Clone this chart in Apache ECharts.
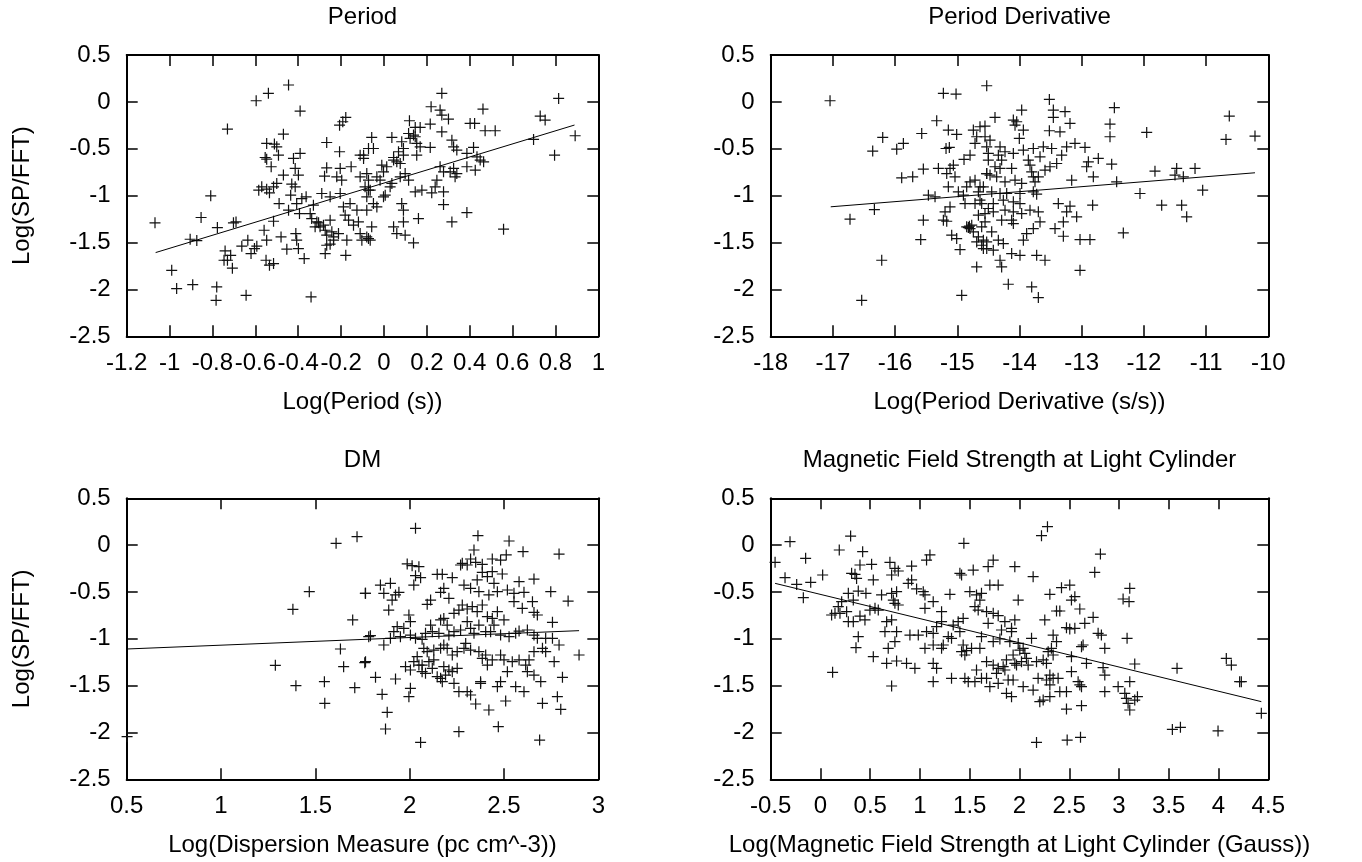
<!DOCTYPE html>
<html>
<head>
<meta charset="utf-8">
<script src="https://cdn.jsdelivr.net/npm/echarts@6/dist/echarts.min.js"></script>
<style>
html,body{margin:0;padding:0;background:#fff;}
#chart{width:1362px;height:862px;}
</style>
</head>
<body>
<div id="chart"></div>
<script>
// ---------- DATA ----------
const titles = ['Period', 'Period Derivative', 'DM', 'Magnetic Field Strength at Light Cylinder'];
const xNames = ['Log(Period (s))', 'Log(Period Derivative (s/s))', 'Log(Dispersion Measure (pc cm^-3))', 'Log(Magnetic Field Strength at Light Cylinder (Gauss))'];
const yName = 'Log(SP/FFT)';
const xRanges = [[-1.2, 1, 0.2], [-18, -10, 1], [0.5, 3, 0.5], [-0.5, 4.5, 0.5]];
const yRange = [-2.5, 0.5, 0.5];

const periodPts = [[-1.068,-1.29],[-0.99,-1.796],[-0.967,-1.991],[-0.892,-1.949],[-0.904,-1.465],[-0.873,-1.479],[-0.853,-1.233],[-0.808,-1.002],[-0.78,-1.974],[-0.783,-2.116],[-0.777,-1.34],[-0.73,-0.29],[-0.702,-1.29],[-0.69,-1.28],[-0.741,-1.589],[-0.73,-1.689],[-0.715,-1.636],[-0.707,-1.774],[-0.746,-1.689],[-0.643,-2.063],[-0.663,-1.539],[-0.635,-1.475],[-0.62,-1.618],[-0.604,-1.564],[-0.593,-1.539],[-0.596,0.012],[-0.539,0.091],[-0.445,0.18],[-0.391,-0.098],[-0.469,-0.344],[-0.547,-0.443],[-0.511,-0.45],[-0.5,-0.479],[-0.492,-0.568],[-0.554,-0.593],[-0.547,-0.611],[-0.526,-0.692],[-0.584,-0.942],[-0.57,-0.906],[-0.547,-0.931],[-0.534,-0.97],[-0.515,-0.906],[-0.5,-0.87],[-0.469,-0.781],[-0.489,-1.084],[-0.559,-1.369],[-0.547,-1.475],[-0.515,-1.273],[-0.48,-1.44],[-0.453,-1.571],[-0.411,-1.404],[-0.407,-1.475],[-0.399,-1.564],[-0.372,-1.671],[-0.55,-1.689],[-0.534,-1.742],[-0.515,-1.724],[-0.422,-0.603],[-0.391,-0.55],[-0.414,-0.71],[-0.399,-0.781],[-0.43,-0.877],[-0.414,-0.906],[-0.435,-0.995],[-0.407,-1.084],[-0.383,-1.031],[-0.363,-1.013],[-0.445,-1.155],[-0.394,-1.191],[-0.34,-2.08],[-0.267,-0.433],[-0.207,-0.532],[-0.207,-0.248],[-0.192,-0.212],[-0.178,-0.166],[-0.267,-0.703],[-0.204,-0.71],[-0.153,-0.692],[-0.277,-0.792],[-0.22,-0.799],[-0.197,-0.835],[-0.111,-0.568],[-0.095,-0.603],[-0.072,-0.497],[-0.111,-0.799],[-0.08,-0.764],[-0.29,-0.977],[-0.251,-1.013],[-0.204,-0.977],[-0.329,-1.102],[-0.337,-1.244],[-0.313,-1.28],[-0.298,-1.333],[-0.274,-1.369],[-0.251,-1.262],[-0.243,-1.386],[-0.267,-1.422],[-0.235,-1.44],[-0.212,-1.404],[-0.189,-1.12],[-0.181,-1.208],[-0.165,-1.262],[-0.158,-1.084],[-0.142,-1.315],[-0.119,-1.28],[-0.111,-1.404],[-0.103,-1.475],[-0.072,-1.458],[-0.126,-1.155],[-0.08,-1.013],[-0.072,-0.942],[-0.173,-1.475],[-0.178,-1.636],[-0.274,-1.618],[-0.267,-1.529],[-0.251,-1.518],[-0.235,-1.475],[-0.321,-1.333],[-0.305,-1.29],[-0.282,-1.315],[-0.344,-1.191],
[0.27,0.091],[0.22,-0.052],[0.262,-0.087],[0.27,-0.141],[0.301,-0.183],[0.462,-0.077],[0.402,-0.23],[0.423,-0.23],[0.472,-0.308],[0.519,-0.308],[0.119,-0.201],[0.169,-0.272],[0.146,-0.272],[0.216,-0.237],[0.115,-0.337],[0.138,-0.354],[0.146,-0.372],[0.122,-0.39],[0.27,-0.319],[-0.057,-0.379],[0.037,-0.379],[0.083,-0.425],[0.091,-0.497],[0.153,-0.443],[0.169,-0.479],[0.216,-0.486],[-0.049,-0.497],[-0.095,-0.568],[0.045,-0.593],[0.06,-0.639],[0.091,-0.568],[0.153,-0.568],[0.317,-0.408],[0.34,-0.514],[0.325,-0.479],[0.387,-0.55],[0.418,-0.486],[0.434,-0.586],[0.449,-0.621],[0.465,-0.639],[0.729,-0.151],[0.752,-0.194],[0.815,0.037],[0.698,-0.4],[0.796,-0.568],[0.892,-0.361],[0.558,-1.358],[0.387,-1.18],[0.317,-1.28],[0.161,-1.244],[0.278,-1.095],[0.278,-0.959],[0.223,-0.97],[0.146,-0.959],[0.177,-0.942],[0.045,-1.333],[0.091,-1.28],[0.099,-1.422],[0.138,-1.504],[0.06,-1.404],[-0.033,-0.799],[-0.018,-0.835],[0.006,-0.995],[-0.002,-1.013],[-0.072,-0.835],[-0.088,-0.906],[-0.064,-0.942],[-0.049,-1.084],[-0.08,-1.155],[-0.033,-1.12],[-0.057,-1.333],[-0.08,-1.44],[-0.064,-1.475],[0.083,-1.084],[0.091,-1.155],[0.076,-0.799],[0.115,-0.835],[0.099,-0.764],[0.262,-0.692],[0.278,-0.746],[0.325,-0.71],[0.332,-0.799],[0.34,-0.764],[0.309,-0.746],[0.387,-0.692],[0.426,-0.728],[0.247,-0.835],[0.239,-0.906],[0.029,-0.906],[0.037,-0.87],[-0.01,-0.675],[0.013,-0.692],[-0.002,-0.746],[0.068,-0.532],[0.045,-0.621],[0.076,-0.657]];

const pdotPts = [[-17.046,0.012],[-16.725,-1.251],[-16.333,-1.148],[-16.36,-0.525],[-16.199,-0.379],[-15.974,-0.504],[-15.867,-0.443],[-16.215,-1.689],[-16.537,-2.116],[-15.894,-0.81],[-15.717,-0.799],[-15.546,-0.717],[-15.304,-0.71],[-15.17,-0.764],[-15.117,-0.71],[-15.063,-0.675],[-15.037,-0.799],[-15.144,-0.906],[-15.572,-0.337],[-15.331,-0.201],[-15.144,-0.301],[-15.01,-0.347],[-15.128,-0.486],[-15.181,-0.497],[-15.224,0.091],[-15.02,0.083],[-14.527,0.172],[-14.742,-0.301],[-14.635,-0.265],[-14.688,-0.372],[-14.715,-0.443],[-14.795,-0.568],[-14.892,-0.614],[-15.465,-0.995],[-15.358,-1.013],[-15.117,-1.12],[-15.197,-1.173],[-15.224,-1.262],[-15.17,-1.273],[-15.546,-1.262],[-15.588,-1.468],[-15.09,-1.422],[-15.01,-1.458],[-14.956,-1.575],[-14.688,-1.76],[-14.929,-2.063],[-14.983,-0.959],[-14.902,-0.995],[-14.849,-0.906],[-14.795,-0.853],[-14.715,-0.835],[-14.635,-0.906],[-14.661,-0.959],[-14.635,-1.048],[-14.715,-1.084],[-14.876,-1.084],[-14.849,-1.333],[-14.795,-1.351],[-14.768,-1.315],[-14.742,-1.386],[-14.661,-1.44],[-14.688,-1.493],[-14.608,-1.529],[-14.527,-1.564],[-14.581,-1.475],[-14.661,-1.208],[-14.554,-1.28],[-14.501,-1.137],[-14.527,-0.764],[-14.501,-0.621],[-14.527,-0.479],[-14.554,-0.372],[-14.822,-1.34],[-14.806,-1.326],
[-13.52,0.026],[-13.965,-0.087],[-14.394,-0.166],[-14.099,-0.194],[-14.045,-0.212],[-14.072,-0.248],[-13.938,-0.301],[-14.003,-0.39],[-14.555,-0.258],[-13.456,-0.087],[-13.456,-0.166],[-13.268,-0.105],[-13.188,-0.23],[-13.52,-0.308],[-13.349,-0.319],[-12.475,-0.062],[-12.545,-0.237],[-12.545,-0.372],[-11.955,-0.326],[-10.627,-0.151],[-10.68,-0.4],[-10.214,-0.365],[-14.474,-0.408],[-14.313,-0.479],[-14.233,-0.532],[-14.501,-0.55],[-14.34,-0.568],[-14.287,-0.621],[-14.394,-0.692],[-14.313,-0.71],[-14.126,-0.71],[-14.099,-0.55],[-13.938,-0.514],[-13.778,-0.497],[-13.617,-0.479],[-13.483,-0.497],[-13.322,-0.568],[-13.402,-0.657],[-13.242,-0.479],[-13.108,-0.443],[-12.947,-0.486],[-12.733,-0.603],[-12.893,-0.639],[-12.92,-0.692],[-12.518,-0.664],[-12.813,-0.799],[-13.161,-0.835],[-12.438,-0.853],[-13.858,-0.621],[-13.831,-0.675],[-13.804,-0.746],[-13.778,-0.799],[-13.751,-0.853],[-13.697,-0.799],[-13.67,-0.586],[-13.59,-0.728],[-13.51,-0.692],[-14.528,-0.764],[-14.474,-0.781],[-14.367,-0.799],[-14.233,-0.853],[-14.072,-0.835],[-13.965,-0.87],[-14.581,-0.906],[-14.447,-0.959],[-14.313,-0.977],[-14.206,-0.977],[-13.992,-0.977],[-13.778,-0.959],[-13.724,-0.984],[-11.822,-0.739],[-11.473,-0.71],[-11.5,-0.781],[-11.366,-0.799],[-11.178,-0.71],[-11.055,-0.942],[-12.063,-0.977],[-11.714,-1.102],[-11.393,-1.102],[-11.312,-1.226],[-12.331,-1.397],[-12.824,-1.102],[-13.027,-1.468],[-12.867,-1.468],[-14.608,-1.084],[-14.421,-1.084],[-14.26,-1.048],[-14.099,-1.066],[-13.992,-1.084],[-14.555,-1.191],[-14.421,-1.173],[-14.233,-1.155],[-14.099,-1.173],[-13.965,-1.191],[-13.831,-1.155],[-13.697,-1.173],[-13.376,-1.084],[-13.188,-1.112],[-13.081,-1.226],[-13.242,-1.173],[-13.295,-1.28],[-13.429,-1.351],[-13.67,-1.28],[-13.778,-1.351],[-13.885,-1.404],[-13.938,-1.475],[-14.287,-1.262],[-14.126,-1.262],[-14.099,-1.298],[-14.608,-1.333],[-14.447,-1.386],[-14.34,-1.475],[-14.528,-1.493],[-14.581,-1.564],[-14.421,-1.582],[-14.26,-1.511],[-14.313,-1.689],[-14.287,-1.76],[-14.126,-1.618],[-13.992,-1.636],[-13.724,-1.636],[-13.59,-1.689],[-13.027,-1.796],[-14.18,-1.945],[-13.804,-1.974],[-13.697,-2.087],[-13.295,-1.433]];

const dmPts = [[0.502,-2.045],[1.61,0.019],[1.721,0.09],[1.468,-0.497],[1.381,-0.685],[1.765,-0.515],[1.698,-0.799],[1.783,-0.977],[1.633,-1.109],[1.288,-1.283],[1.65,-1.298],[1.762,-1.255],[1.397,-1.5],[1.548,-1.458],[1.709,-1.522],[1.55,-1.689],
[2.031,0.179],[2.362,0.101],[2.527,0.044],[2.601,-0.07],[2.792,-0.095],[2.341,-0.052],[2.323,-0.148],[2.279,-0.194],[2.305,-0.212],[2.35,-0.184],[2.385,-0.205],[2.438,-0.148],[2.482,-0.159],[2.512,-0.105],[1.987,-0.201],[2.013,-0.219],[2.049,-0.23],[2.031,-0.326],[2.058,-0.347],[2.022,-0.426],[2.146,-0.312],[2.173,-0.312],[2.226,-0.347],[2.27,-0.212],[2.358,-0.372],[2.385,-0.29],[2.412,-0.337],[2.438,-0.283],[2.491,-0.308],[2.447,-0.408],[2.58,-0.39],[2.659,-0.362],[2.288,-0.426],[2.323,-0.461],[2.367,-0.497],[2.42,-0.532],[2.465,-0.497],[2.518,-0.479],[2.553,-0.515],[2.606,-0.504],[2.748,-0.497],[2.84,-0.597],[1.766,-0.515],[1.845,-0.426],[1.898,-0.408],[1.863,-0.515],[1.925,-0.532],[1.943,-0.504],[1.907,-0.586],[1.889,-0.693],[2.164,-0.504],[2.181,-0.461],[2.111,-0.586],[2.093,-0.632],[2.208,-0.568],[2.235,-0.728],[2.261,-0.693],[2.279,-0.639],[2.305,-0.682],[2.332,-0.657],[2.358,-0.71],[2.385,-0.639],[2.412,-0.764],[2.438,-0.782],[2.465,-0.71],[2.5,-0.799],[2.553,-0.604],[2.597,-0.675],[2.651,-0.604],[2.659,-0.718],[2.677,-0.746],[2.757,-0.824],[1.996,-0.746],[2.004,-0.817],[1.934,-0.871],[1.969,-0.888],[1.916,-0.924],[1.951,-0.977],[1.792,-0.967],[1.898,-0.995],[1.863,-1.066],[2.004,-0.96],[2.031,-0.995],[2.066,-1.006],[2.084,-0.942],[2.111,-0.853],[2.164,-0.799],[2.181,-0.782],[2.12,-0.924],[2.155,-0.942],[2.199,-0.853],[2.208,-0.96],[2.235,-0.924],[2.27,-0.906],[2.305,-0.817],[2.323,-0.888],[2.341,-0.942],[2.367,-0.853],[2.403,-0.924],[2.429,-0.924],[2.447,-0.853],[2.482,-0.96],[2.527,-0.977],[2.562,-0.942],[2.58,-0.917],[2.624,-0.906],[2.659,-0.96],[2.677,-0.995],[2.721,-0.995],[2.757,-0.995],[2.792,-1.066],[1.766,-1.244],[1.819,-1.411],[1.854,-1.593],[1.881,-1.785],[1.872,-1.963],[2.058,-2.106],[2.261,-1.992],[2.47,-1.938],[2.689,-2.081],[2.801,-1.753],[2.783,-1.618],[2.704,-1.689],[2.81,-1.411],[2.695,-1.458],[1.925,-1.429],[1.978,-1.298],[2.004,-1.333],[2.022,-1.244],[2.049,-1.28],[2.066,-1.351],[2.084,-1.369],[2.102,-1.244],[2.12,-1.315],[2.146,-1.404],[2.164,-1.422],[2.173,-1.458],[2.19,-1.387],[2.208,-1.333],[2.226,-1.351],[2.252,-1.315],[2.235,-1.476],[2.261,-1.565],[2.305,-1.565],[2.323,-1.6],[2.35,-1.696],[2.376,-1.476],[2.376,-1.458],[2.42,-1.76],[2.465,-1.511],[2.482,-1.458],[2.509,-1.664],[2.562,-1.511],[2.606,-1.565],[2.004,-1.529],[1.996,-1.618],[2.075,-1.102],[2.093,-1.138],[2.128,-1.12],[2.164,-1.102],[2.181,-1.066],[2.199,-1.102],[2.226,-1.173],[2.252,-1.138],[2.297,-1.049],[2.288,-1.102],[2.323,-1.12],[2.367,-1.138],[2.385,-1.209],[2.412,-1.28],[2.403,-1.173],[2.438,-1.226],[2.482,-1.173],[2.5,-1.226],[2.518,-1.351],[2.544,-1.244],[2.58,-1.226],[2.615,-1.28],[2.633,-1.226],[2.659,-1.138],[2.704,-1.102],[2.721,-1.138],[2.766,-1.244],[2.624,-1.351],[2.659,-1.387],[2.04,-1.191],[2.066,-1.28],[2.128,-1.226],[2.181,-1.298],[2.898,-1.173]];

const bfieldPts = [[-0.456,-0.184],[-0.306,0.037],[-0.356,-0.347],[-0.239,-0.419],[-0.172,-0.561],[-0.149,-0.141],[-0.098,-0.397],[0.022,-0.319],[0.189,-0.052],[0.303,0.097],[0.424,-0.07],[0.122,-1.358],[0.347,-0.312],[0.363,-0.355],[0.397,-0.212],[0.514,-0.205],[0.531,-0.372],[0.313,-0.301],[0.28,-0.515],[0.38,-0.49],[0.457,-0.515],[0.33,-0.586],[0.213,-0.604],[0.179,-0.657],[0.112,-0.746],[0.146,-0.728],[0.196,-0.728],[0.263,-0.71],[0.28,-0.817],[0.33,-0.817],[0.397,-0.757],[0.447,-0.799],[0.38,-0.977],[0.357,-1.095],[0.497,-0.693],[0.548,-0.675],[0.581,-0.693],[0.614,-0.532],[0.698,-0.184],[0.748,-0.248],[0.715,-0.319],[0.782,-0.276],[0.916,-0.223],[0.916,-0.372],[0.882,-0.408],[0.966,-0.468],[1.033,-0.497],[1.05,-0.532],[1.1,-0.105],[1.066,-0.159],[0.715,-0.515],[0.765,-0.497],[0.732,-0.586],[0.748,-0.621],[0.782,-0.639],[0.715,-0.799],[0.665,-0.817],[0.648,-0.924],[0.765,-0.924],[0.748,-1.031],[0.681,-1.102],[0.531,-1.191],[0.665,-1.262],[0.765,-1.237],[0.865,-1.262],[0.949,-1.315],[0.715,-1.504],[0.899,-0.96],[0.983,-0.96],[1.066,-0.924],[1.133,-0.942],[1.167,-0.871],[1.217,-0.817],[1.217,-0.71],[1.133,-0.604],[1.05,-0.675],[1.05,-1.102],[1.133,-1.066],[1.217,-1.102],[1.234,-1.066],[1.133,-1.262],[1.167,-1.315],[1.133,-1.458],[1.317,-1.422],[1.451,-1.422],[1.485,-1.458],[1.552,-1.458],[1.618,-1.422],[1.702,-1.511],[1.786,-1.476],[1.869,-1.582],[1.92,-1.618],[1.886,-1.44],[1.284,-0.977],[1.317,-0.995],[1.334,-0.853],[1.384,-0.817],[1.434,-0.782],[1.401,-0.924],[1.434,-1.066],[1.418,-1.138],[1.468,-1.127],[1.451,-1.173],[1.518,-1.102],[1.602,-1.102],[1.618,-0.977],[1.301,-0.525],[1.401,-0.301],[1.441,0.019],[1.535,-0.266],[1.418,-0.319],[1.501,-0.497],[1.568,-0.532],[1.618,-0.515],[1.602,-0.586],[1.552,-0.657],[1.585,-0.693],[1.669,-0.71],[1.685,-0.23],[1.736,-0.159],[1.702,-0.426],[1.786,-0.426],[1.953,-0.23],[1.987,-0.586],[1.736,-0.728],[1.786,-0.753],[1.853,-0.817],[1.953,-0.799],[1.685,-0.835],[1.819,-0.906],[1.92,-0.924],[1.736,-1.031],[1.803,-1.002],[1.903,-1.031],[1.987,-1.049],[1.669,-1.244],[1.736,-1.28],[1.786,-1.315],[1.836,-1.298],[1.869,-1.226],[1.953,-1.262],[1.568,-1.333],[1.669,-1.422],[1.769,-1.369],[1.853,-1.333],[1.936,-1.44],
[2.281,0.197],[2.221,0.101],[2.813,-0.095],[2.756,-0.29],[2.137,-0.337],[2.305,-0.525],[2.422,-0.454],[2.505,-0.426],[2.522,-0.586],[2.556,-0.55],[2.606,-0.682],[2.372,-0.703],[2.405,-0.703],[2.254,-0.799],[2.74,-0.771],[3.108,-0.461],[3.041,-0.575],[3.101,-0.604],[1.92,-0.888],[2.121,-0.995],[2.003,-1.12],[2.037,-1.102],[2.054,-1.155],[2.07,-1.209],[2.02,-1.244],[1.936,-1.173],[1.97,-1.28],[2.087,-1.28],[2.171,-1.244],[2.238,-1.226],[2.271,-1.262],[2.288,-1.138],[2.321,-1.102],[2.338,-0.96],[2.372,-1.031],[2.338,-1.173],[2.472,-0.881],[2.505,-0.895],[2.556,-0.888],[2.656,-0.835],[2.79,-0.942],[2.823,-0.96],[2.857,-1.102],[2.623,-1.084],[2.639,-1.066],[2.522,-1.191],[2.673,-1.262],[2.84,-1.308],[2.857,-1.387],[3.081,-0.995],[3.158,-1.269],[2.037,-1.511],[2.137,-1.547],[2.187,-1.422],[2.271,-1.44],[2.305,-1.387],[2.338,-1.422],[2.388,-1.422],[2.305,-1.493],[2.238,-1.654],[2.204,-1.671],[2.305,-1.618],[2.405,-1.565],[2.472,-1.565],[2.522,-1.351],[2.589,-1.458],[2.606,-1.493],[2.623,-1.511],[2.472,-1.75],[2.623,-1.714],[2.857,-1.565],[2.991,-1.511],[3.058,-1.582],[3.074,-1.636],[3.091,-1.689],[3.108,-1.76],[3.158,-1.654],[3.185,-1.618],[3.108,-1.458],[2.171,-2.106],[2.479,-2.081],[2.613,-2.052],[3.583,-1.315],[4.078,-1.209],[4.129,-1.28],[4.229,-1.458],[4.212,-1.458],[3.536,-1.967],[3.617,-1.945],[3.995,-1.984],[4.43,-1.796]];

// fitted lines (end points)
const periodFit = [[-1.065,-1.607],[0.889,-0.247]];
const pdotFit = [[-17.035,-1.119],[-10.214,-0.756]];
const dmFit = [[0.5,-1.109],[2.898,-0.913]];
const bfieldFit = [[-0.456,-0.408],[4.43,-1.671]];

const allPts = [periodPts, pdotPts, dmPts, bfieldPts];
const allFits = [periodFit, pdotFit, dmFit, bfieldFit];

// ---------- LAYOUT ----------
const FONT = "'Liberation Sans', Arial, Helvetica, sans-serif";
const grids = [
  {left: 126.7, top: 55, width: 471.6, height: 281.3},
  {left: 770.7, top: 55, width: 497.6, height: 281.3},
  {left: 126.7, top: 498.3, width: 471.6, height: 281},
  {left: 770.7, top: 498.3, width: 497.6, height: 281}
];
const plusPath = 'path://M4.45,0H5.55V4.45H10V5.55H5.55V10H4.45V5.55H0V4.45H4.45Z';

function axisBase(showLabel, margin) {
  return {
    axisLine: {show: true, onZero: false, lineStyle: {color: '#000', width: 2}},
    axisTick: {show: true, inside: true, length: 11, lineStyle: {color: '#000', width: 1.5}},
    splitLine: {show: false},
    axisLabel: {show: showLabel, color: '#000', fontSize: 24, fontFamily: FONT, margin: margin}
  };
}

const xAxis = [], yAxis = [], series = [], graphic = [];
grids.forEach((g, i) => {
  const [xmin, xmax, xint] = xRanges[i];
  xAxis.push(Object.assign({type: 'value', gridIndex: i, position: 'bottom', min: xmin, max: xmax, interval: xint}, axisBase(true, 15)));
  xAxis.push(Object.assign({type: 'value', gridIndex: i, position: 'top', min: xmin, max: xmax, interval: xint}, axisBase(false, 8)));
  yAxis.push(Object.assign({type: 'value', gridIndex: i, position: 'left', min: yRange[0], max: yRange[1], interval: yRange[2]}, axisBase(true, 16)));
  yAxis.push(Object.assign({type: 'value', gridIndex: i, position: 'right', min: yRange[0], max: yRange[1], interval: yRange[2]}, axisBase(false, 8)));

  series.push({
    type: 'scatter', xAxisIndex: 2 * i, yAxisIndex: 2 * i,
    data: allPts[i], symbol: plusPath, symbolSize: 11,
    itemStyle: {color: '#111', opacity: 1}, silent: true
  });
  series.push({
    type: 'line', xAxisIndex: 2 * i, yAxisIndex: 2 * i,
    data: allFits[i], symbol: 'none', silent: true,
    lineStyle: {color: '#000', width: 1}
  });

  const cx = g.left + g.width / 2;
  graphic.push({type: 'text', x: cx, y: g.top - 37.8,
    style: {text: titles[i], font: '24px ' + FONT, fill: '#000', textAlign: 'center', textVerticalAlign: 'middle'}});
  graphic.push({type: 'text', x: cx, y: g.top + g.height + 66,
    style: {text: xNames[i], font: '24px ' + FONT, fill: '#000', textAlign: 'center', textVerticalAlign: 'middle'}});
  if (i % 2 === 0) {
    graphic.push({type: 'text', x: 22, y: g.top + g.height / 2, rotation: Math.PI / 2,
      style: {text: yName, font: '24px ' + FONT, fill: '#000', textAlign: 'center', textVerticalAlign: 'middle'}});
  }
});

const chart = echarts.init(document.getElementById('chart'), null, {renderer: 'canvas'});
chart.setOption({
  backgroundColor: '#fff',
  animation: false,
  grid: grids,
  xAxis: xAxis,
  yAxis: yAxis,
  series: series,
  graphic: graphic
});
</script>
</body>
</html>
